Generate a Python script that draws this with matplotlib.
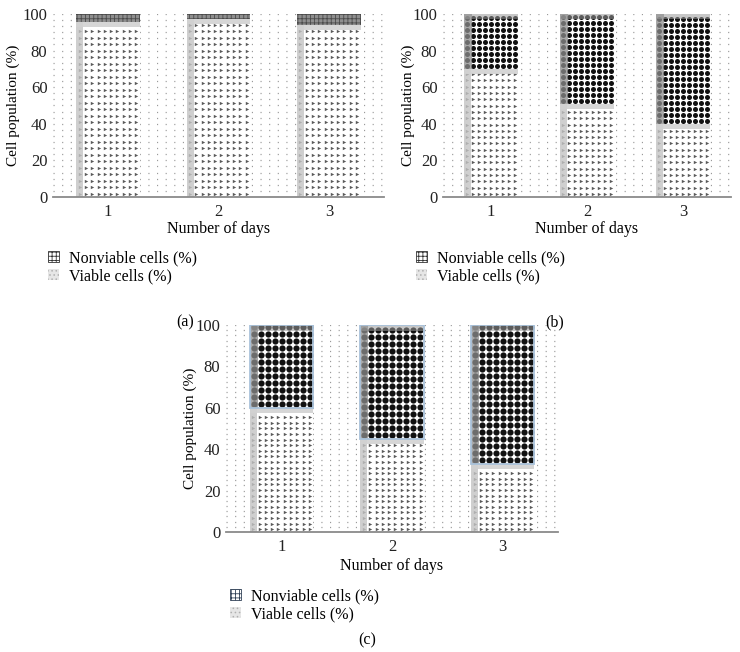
import matplotlib
matplotlib.use("Agg")
import matplotlib.pyplot as plt
import numpy as np
from matplotlib.patches import Patch
from matplotlib.ticker import MultipleLocator

plt.rcParams['font.family'] = ['Liberation Serif', 'DejaVu Serif']
plt.rcParams['hatch.linewidth'] = 0.6

days = [1, 2, 3]
day_labels = ["1", "2", "3"]
a_viable = [95.5, 97.5, 94.0]
a_nonviable = [4.5, 2.5, 6.0]
b_viable = [70, 51, 40]
b_nonviable = [30, 49, 60]
c_viable = [60, 45, 33]
c_nonviable = [40, 55, 67]
yticks = [0, 20, 40, 60, 80, 100]
legend_labels = ["Nonviable cells (%)", "Viable cells (%)"]
panel_labels = ["(a)", "(b)", "(c)"]

W, H = 740, 652
fig = plt.figure(figsize=(W / 100, H / 100), dpi=100)


def px_axes(left, right, top, bottom):
    return fig.add_axes([left / W, 1 - bottom / H, (right - left) / W, (bottom - top) / H])


def pattern(ax, x, width, bottom, height, marker, size, color, dx, dy, zorder):
    t = ax.transData
    (x0, y0) = t.transform((x - width / 2, bottom))
    (x1, y1) = t.transform((x + width / 2, bottom + height))
    xs = np.arange(x0 + dx * 0.55, x1 - dx * 0.3, dx)
    ys = np.arange(y0 + dy * 0.5, y1 - dy * 0.2, dy)
    if len(xs) == 0 or len(ys) == 0:
        return
    gx, gy = np.meshgrid(xs, ys)
    pts = t.inverted().transform(np.column_stack([gx.ravel(), gy.ravel()]))
    ax.scatter(pts[:, 0], pts[:, 1], marker=marker, s=size, c=color,
               linewidths=0, zorder=zorder, clip_on=True)


def style_axes(ax, minor_step, ylab_x, xlab_y):
    ax.set_xlim(0.5, 3.5)
    ax.set_ylim(0, 100)
    ax.set_yticks(yticks)
    ax.yaxis.set_minor_locator(MultipleLocator(minor_step))
    ax.set_xticks(days)
    ax.set_xticklabels(day_labels)
    for s in ["left", "top", "right"]:
        ax.spines[s].set_visible(False)
    ax.spines["bottom"].set_color("#8a8a8a")
    ax.spines["bottom"].set_linewidth(1.3)
    ax.spines["bottom"].set_zorder(5)
    ax.tick_params(which="both", length=0, labelsize=12, colors="#222222")
    ax.tick_params(axis="y", pad=4)
    ax.tick_params(axis="x", pad=5)
    ax.grid(True, which="both", axis="y", color="#9a9a9a",
            linewidth=0.9, linestyle=(0, (0.9, 6.0)))
    ax.set_axisbelow(True)
    ax.set_ylabel("Cell population (%)", fontsize=11)
    ax.set_xlabel("Number of days", fontsize=11.5)
    ax.yaxis.set_label_coords(ylab_x, 0.5)
    ax.xaxis.set_label_coords(0.5, xlab_y)


def stripe_width(ax, px):
    t = ax.transData
    a = t.inverted().transform((0, 0))[0]
    b = t.inverted().transform((px, 0))[0]
    return b - a


def band_height(ax, px):
    t = ax.transData
    a = t.inverted().transform((0, 0))[1]
    b = t.inverted().transform((0, px))[1]
    return b - a


def draw_viable(ax, w, vals, dx, dy):
    sw = stripe_width(ax, 7)
    bh = band_height(ax, 5)
    ax.bar(days, vals, width=w, color="white", zorder=2)
    for x, v in zip(days, vals):
        pattern(ax, x, w, 0, v - bh * 0.6, ">", 6, "#5a5a5a", dx, dy, 3)
    ax.bar([d - w / 2 + sw / 2 for d in days], vals, width=sw, color="#c4c4c4",
           alpha=0.8, zorder=4)
    ax.bar(days, [bh] * 3, bottom=[v - bh for v in vals], width=w,
           color="#d2d2d2", alpha=0.9, zorder=4)


def draw_nonviable_dots(ax, w, bottoms, vals, dx, dy, size, edge=None):
    sw = stripe_width(ax, 8)
    bh = band_height(ax, dy)
    ax.bar(days, vals, bottom=bottoms, width=w, color="white", zorder=2)
    for x, b, v in zip(days, bottoms, vals):
        pattern(ax, x, w, b, v, "o", size, "#111111", dx, dy, 3)
    ax.bar([d - w / 2 + sw / 2 for d in days], vals, bottom=bottoms, width=sw,
           color="#8c8c8c", alpha=0.75, zorder=4)
    ax.bar(days, [bh * 0.9] * 3, bottom=[b + v - bh * 0.9 for b, v in zip(bottoms, vals)],
           width=w, color="#9a9a9a", alpha=0.55, zorder=4)
    if edge:
        ax.bar(days, vals, bottom=bottoms, width=w, facecolor="none",
               edgecolor=edge, linewidth=1.3, zorder=6)


def legend(ax, x, y, nv_face="white", nv_edge="#333333"):
    handles = [Patch(facecolor=nv_face, edgecolor=nv_edge, hatch="++++", linewidth=0.6),
               Patch(facecolor="#e6e6e6", edgecolor="#b0b0b0", hatch="....", linewidth=0)]
    ax.legend(handles, legend_labels, loc="upper left",
              bbox_to_anchor=(x / W, 1 - y / H), bbox_transform=fig.transFigure,
              frameon=False, fontsize=11.5, handlelength=0.7, handleheight=0.7,
              handletextpad=0.6, borderpad=0, borderaxespad=0, labelspacing=0.15)


# Panel (a)
ax_a = px_axes(53, 384, 14, 197)
style_axes(ax_a, 10 / 3, -0.10, -0.13)
wa = 0.58
draw_viable(ax_a, wa, a_viable, 6.3, 6.5)
ax_a.bar(days, a_nonviable, bottom=a_viable, width=wa, facecolor="#8e8e8e",
         edgecolor="#4a4a4a", hatch="++++", linewidth=0, zorder=4)
legend(ax_a, 48, 250)
fig.text(185 / W, 1 - 322 / H, panel_labels[0], ha="center", va="center", fontsize=11.5)

# Panel (b)
ax_b = px_axes(443, 731, 14, 197)
style_axes(ax_b, 10 / 3, -0.097, -0.13)
wb = 0.57
draw_viable(ax_b, wb, b_viable, 6.0, 6.3)
draw_nonviable_dots(ax_b, wb, b_viable, b_nonviable, 6.0, 6.0, 13)
legend(ax_b, 416, 250)
fig.text(555 / W, 1 - 322 / H, panel_labels[1], ha="center", va="center", fontsize=11.5)

# Panel (c)
ax_c = px_axes(226, 558, 325, 532)
style_axes(ax_c, 2.5, -0.087, -0.126)
wc = 0.57
draw_viable(ax_c, wc, c_viable, 6.3, 5.6)
draw_nonviable_dots(ax_c, wc, c_viable, c_nonviable, 7.0, 7.0, 20, edge="#a9c2da")
legend(ax_c, 230, 588, nv_edge="#2f3f55")
fig.text(367 / W, 1 - 640 / H, panel_labels[2], ha="center", va="center", fontsize=11.5)

fig.savefig("out.png", dpi=100)
